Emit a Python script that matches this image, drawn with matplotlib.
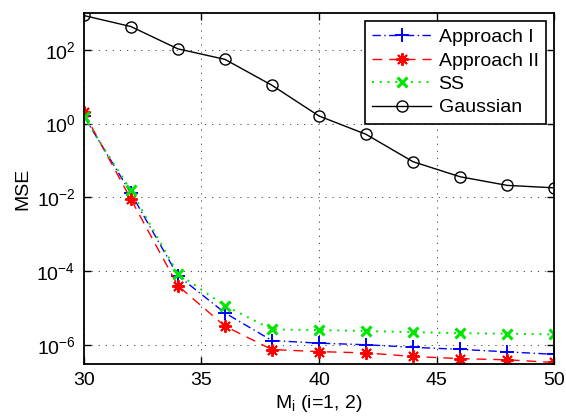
import numpy as np
import matplotlib
matplotlib.use("Agg")
import matplotlib.pyplot as plt

# ===============================
#  DATA
# ===============================
M = [30, 32, 34, 36, 38, 40, 42, 44, 46, 48, 50]

mse_approach1 = [1.6, 1.3e-2, 7.5e-5, 7.3e-6, 1.3e-6, 1.1e-6, 1.0e-6, 8.5e-7, 7.5e-7, 6.4e-7, 5.5e-7]
mse_approach2 = [2.0, 9.0e-3, 4.0e-5, 3.2e-6, 7.4e-7, 6.5e-7, 6.0e-7, 4.8e-7, 4.2e-7, 3.9e-7, 3.3e-7]
mse_ss = [1.5, 1.55e-2, 8.5e-5, 1.15e-5, 2.6e-6, 2.5e-6, 2.35e-6, 2.2e-6, 2.05e-6, 2.0e-6, 1.9e-6]
mse_gauss = [850, 427, 106, 55, 10.9, 1.6, 0.51, 0.092, 0.036, 0.021, 0.018]

xticks = [30, 35, 40, 45, 50]
yticks = [1e-6, 1e-4, 1e-2, 1e0, 1e2]

# ===============================
#  PLOT
# ===============================
plt.rcParams['font.family'] = ['Liberation Sans', 'DejaVu Sans']
plt.rcParams['mathtext.fontset'] = 'custom'
plt.rcParams['mathtext.rm'] = 'Liberation Sans'
plt.rcParams['mathtext.it'] = 'Liberation Sans'

fig = plt.figure(figsize=(5.66, 4.16), dpi=100)
ax = fig.add_axes([0.148, 0.125, 0.831, 0.844])

ax.semilogy(M, mse_approach1, color="blue", linestyle=(0, (6, 2.5, 1, 2.5)), marker="+",
            markersize=10, markeredgewidth=1.4, linewidth=1.0, label="Approach I")
ax.semilogy(M, mse_approach2, color="red", linestyle=(0, (7, 5)), marker=(8, 2, 0),
            markersize=9, markeredgewidth=1.4, linewidth=1.0, label="Approach II")
ax.semilogy(M, mse_ss, color="#00e600", linestyle=(0, (1, 3)), marker="x",
            markersize=7, markeredgewidth=2.2, linewidth=1.4, label="SS")
ax.semilogy(M, mse_gauss, color="black", linestyle="-", marker="o",
            markersize=8, markerfacecolor="none", markeredgewidth=1.0,
            linewidth=1.0, label="Gaussian")

ax.set_xlim(30, 50)
ax.set_ylim(3e-7, 1e3)
ax.set_xticks(xticks)
ax.set_yticks(yticks)
ax.yaxis.set_minor_locator(matplotlib.ticker.NullLocator())

ax.grid(True, which="major", color="black", linestyle=(0, (1.5, 7)), linewidth=0.6, alpha=0.8)
ax.tick_params(direction="in", top=True, right=True, labelsize=14, length=5,
               width=1.0, pad=6)
for s in ax.spines.values():
    s.set_linewidth(1.3)

ax.set_xlabel(r"M$_\mathregular{i}$ (i=1, 2)", fontsize=14, labelpad=3)
ax.set_ylabel("MSE", fontsize=14, labelpad=4)

leg = ax.legend(loc="upper right", fontsize=14, fancybox=False, framealpha=1,
                edgecolor="black", borderpad=0.4, labelspacing=0.3,
                handlelength=3.0, handletextpad=0.4, borderaxespad=0.4)
leg.get_frame().set_linewidth(1.2)

plt.savefig("out.png", dpi=100)
